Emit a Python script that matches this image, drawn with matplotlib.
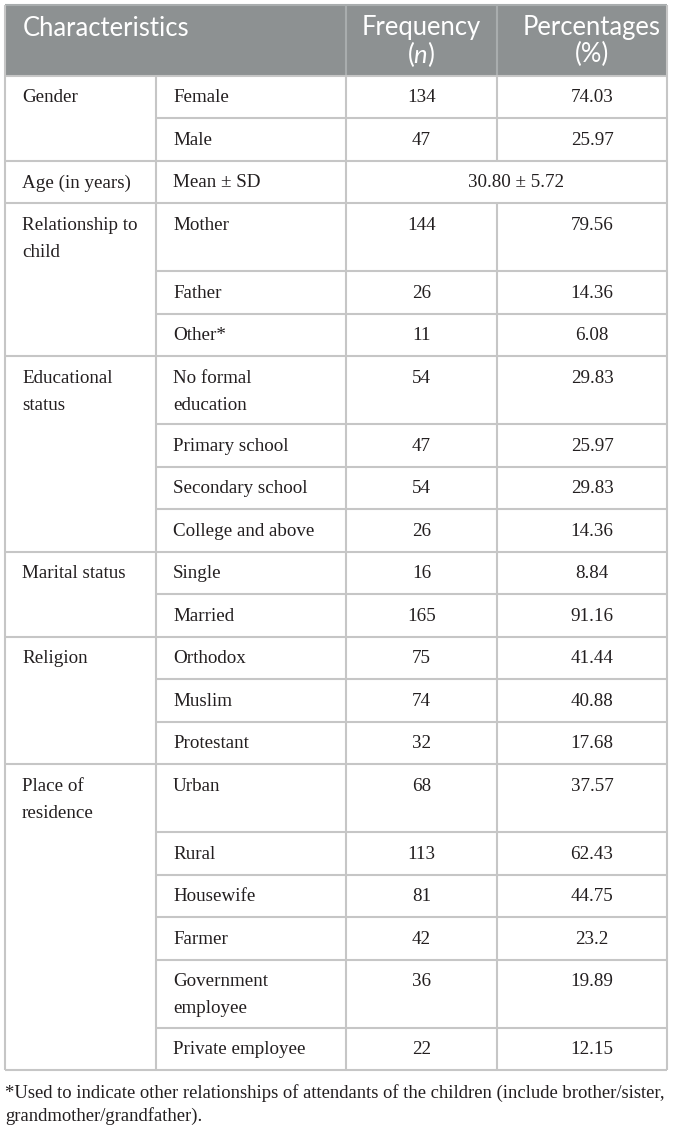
import matplotlib
matplotlib.use("Agg")
import matplotlib.pyplot as plt
from matplotlib.patches import Rectangle

# ---- data -------------------------------------------------------------
header = ["Characteristics", "Frequency\n($\\it{n}$)", "Percentages\n(%)"]

groups = ["Gender", "Age (in years)", "Relationship to\nchild",
          "Educational\nstatus", "Marital status", "Religion",
          "Place of\nresidence"]
group_sizes = [2, 1, 3, 4, 2, 3, 6]

items = ["Female", "Male",
         "Mean \u00b1 SD",
         "Mother", "Father", "Other*",
         "No formal\neducation", "Primary school", "Secondary school",
         "College and above",
         "Single", "Married",
         "Orthodox", "Muslim", "Protestant",
         "Urban", "Rural", "Housewife", "Farmer", "Government\nemployee",
         "Private employee"]

freq = [134, 47,
        None,
        144, 26, 11,
        54, 47, 54, 26,
        16, 165,
        75, 74, 32,
        68, 113, 81, 42, 36, 22]

pct = [74.03, 25.97,
       None,
       79.56, 14.36, 6.08,
       29.83, 25.97, 29.83, 14.36,
       8.84, 91.16,
       41.44, 40.88, 17.68,
       37.57, 62.43, 44.75, 23.2, 19.89, 12.15]

age_mean, age_sd = 30.80, 5.72

footnote = ["*Used to indicate other relationships of attendants of the children (include brother/sister,",
            "grandmother/grandfather)."]

# ---- style ------------------------------------------------------------
HEAD_BG = "#8d9192"
HEAD_LINE = "#a9adae"
GRID = "#c6c6c6"
INK = "#231f20"
SERIF = "Liberation Serif"
SANS = "Lato"

plt.rcParams["mathtext.fontset"] = "custom"
plt.rcParams["mathtext.it"] = "Lato:italic"
plt.rcParams["mathtext.rm"] = "Lato"

W, H = 674, 1128
fig = plt.figure(figsize=(W / 100, H / 100), dpi=100)
ax = fig.add_axes([0, 0, 1, 1])
ax.set_xlim(0, W)
ax.set_ylim(H, 0)
ax.axis("off")

renderer = fig.canvas.get_renderer()


def fit(text, target, **kw):
    t = ax.text(0, 0, text, fontsize=10, **kw)
    w = t.get_window_extent(renderer).width
    t.remove()
    return 10 * target / w


fs_head = fit("Characteristics", 167, family=SANS)
fs_body = fit("Relationship to", 116, family=SERIF)
fs_foot = fit(footnote[0], 662, family=SERIF)

# column edges and text anchors
X0, X1, X2, X3, X4 = 5, 156, 346, 497, 667
c_group, c_item = 22, 173
c_freq, c_pct = (X2 + X3) / 2, 592
TOP, HEAD_BOT = 5, 76
SINGLE, DOUBLE = 42.47, 68
LINE_GAP = 27
lw = 1.5

# header
ax.add_patch(Rectangle((X0, TOP), X4 - X0, HEAD_BOT - TOP, color=HEAD_BG, lw=0))
ax.text(c_group + 1, 28, header[0], family=SANS, fontsize=fs_head,
        color="white", va="center", ha="left")
for cx, lab in zip([c_freq, c_pct], header[1:]):
    parts = lab.split("\n")
    ax.text(cx, 27, parts[0], family=SANS, fontsize=fs_head,
            color="white", va="center", ha="center")
    ax.text(cx, 54, parts[1], family=SANS, fontsize=fs_head,
            color="white", va="center", ha="center")
ax.vlines([X2, X3], TOP, HEAD_BOT, color=HEAD_LINE, lw=lw)
ax.hlines(TOP, X0, X4, color=HEAD_LINE, lw=lw)


def put_lines(x, y, text, ha="left"):
    for k, part in enumerate(text.split("\n")):
        ax.text(x, y + LINE_GAP * k, part, family=SERIF, fontsize=fs_body,
                color=INK, va="center", ha=ha)


# body
y = HEAD_BOT
i = 0
for g, n in zip(groups, group_sizes):
    g_top = y
    ax.hlines(g_top, X0, X4, color=GRID, lw=lw)
    put_lines(c_group, g_top + 22, g)
    for j in range(n):
        row_top = y
        double = "\n" in items[i] or (j == 0 and "\n" in g)
        h = DOUBLE if double else SINGLE
        if j > 0:
            ax.hlines(row_top, X1, X4, color=GRID, lw=lw)
        put_lines(c_item, row_top + 22, items[i])
        if freq[i] is None:
            ax.text((X2 + X4) / 2 + 10, row_top + 22,
                    f"{age_mean:.2f} \u00b1 {age_sd:.2f}", family=SERIF,
                    fontsize=fs_body, color=INK, va="center", ha="center")
        else:
            put_lines(c_freq, row_top + 22, str(freq[i]), ha="center")
            put_lines(c_pct, row_top + 22, str(pct[i]), ha="center")
            ax.vlines(X3, row_top, row_top + h, color=GRID, lw=lw)
        y += h
        i += 1
bottom = y
ax.hlines(bottom, X0, X4, color=GRID, lw=lw)
ax.vlines([X0, X4], TOP, bottom, color=GRID, lw=lw)
ax.vlines([X1, X2], HEAD_BOT, bottom, color=GRID, lw=lw)

# footnote
for k, line in enumerate(footnote):
    ax.text(X0, bottom + 23 + 23 * k, line, family=SERIF, fontsize=fs_foot,
            color=INK, va="center", ha="left")

fig.savefig("out.png", dpi=100)
